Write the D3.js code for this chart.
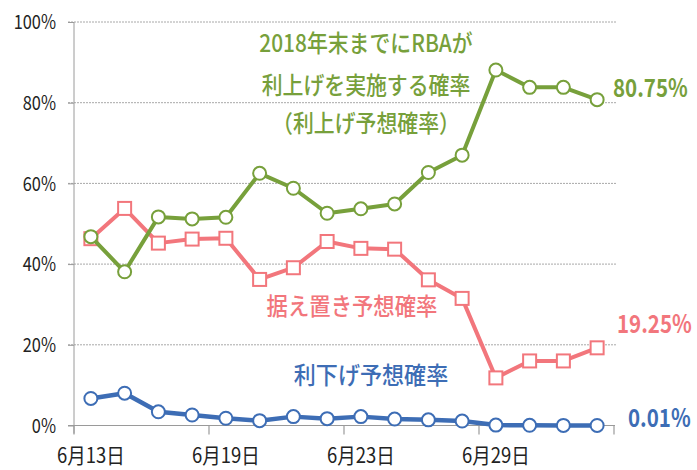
<!DOCTYPE html>
<html><head><meta charset="utf-8">
<script src="https://cdn.jsdelivr.net/npm/d3@7"></script>
<style>
html,body{margin:0;padding:0;background:#fff;}
svg{display:block;}
text{font-family:"Noto Sans CJK JP","Noto Sans",sans-serif;}
</style></head>
<body>
<svg id="chart" width="697" height="470"></svg>
<script>
const categories = ["6月13日","6月14日","6月15日","6月18日","6月19日","6月20日","6月21日","6月22日","6月23日","6月26日","6月27日","6月28日","6月29日","7月2日","7月3日","7月4日"];
const tickLabels = ["6月13日","6月19日","6月23日","6月29日"];
const yTicks = [0,20,40,60,80,100];
const hikeProb = [46.8,38.1,51.7,51.2,51.6,62.5,58.8,52.6,53.7,54.9,62.7,67.0,88.1,83.8,83.8,80.75];
const holdProb = [46.3,53.8,45.2,46.2,46.4,36.2,39.1,45.6,43.9,43.7,36.1,31.5,11.8,16.0,16.0,19.25];
const cutProb  = [6.7,8.0,3.4,2.6,1.8,1.2,2.2,1.7,2.2,1.6,1.4,1.1,0.1,0.05,0.02,0.01];
const hikeLabel = ["2018年末までにRBAが","利上げを実施する確率","（利上げ予想確率）"];
const holdLabel = "据え置き予想確率";
const cutLabel = "利下げ予想確率";
const endLabels = ["80.75%","19.25%","0.01%"];

const green="#77A03B", red="#F2767C", blue="#3D6DB5", grey="#9a9a9a";
const svg=d3.select("#chart");
const x=d3.scaleBand().domain(categories).range([74,614]);
const cx=c=>x(c)+x.bandwidth()/2;
const y=d3.scaleLinear().domain([0,100]).range([425.5,22]);

// gridlines
svg.append("g").selectAll("line").data(yTicks.filter(d=>d>0)).join("line")
  .attr("x1",68).attr("x2",617).attr("y1",d=>y(d)).attr("y2",d=>y(d))
  .attr("stroke","#a8a8a8").attr("stroke-width",1).attr("stroke-dasharray","2,1");

// y axis
const ya=svg.append("g").attr("transform","translate(74,0)")
  .call(d3.axisLeft(y).tickValues(yTicks).tickFormat(d=>d+"%").tickSize(6).tickPadding(4));
ya.select(".domain").attr("stroke",grey).attr("d",`M0,${y(100)}V${y(0)+8}`);
ya.selectAll(".tick line").attr("stroke",grey);
ya.selectAll(".tick text").attr("font-size",19.5).attr("fill","#222")
  .attr("font-family","'Noto Sans','Liberation Sans',sans-serif")
  .attr("transform","scale(0.84,1)").attr("x",-18/0.84).attr("dy","0.35em");

// x axis line + ticks
const xa=svg.append("g");
xa.append("line").attr("x1",68).attr("x2",615).attr("y1",y(0)).attr("y2",y(0)).attr("stroke",grey).attr("stroke-width",1.2);
const bounds=[0,4,8,12].map(i=>x(categories[i])).concat([x.range()[1]]);
xa.selectAll("line.t").data(bounds).join("line").attr("class","t")
  .attr("x1",d=>d).attr("x2",d=>d).attr("y1",y(0)).attr("y2",y(0)+9).attr("stroke",grey).attr("stroke-width",1.2);
xa.selectAll("text").data(tickLabels).join("text")
  .attr("transform",d=>`translate(${cx(d)},463) scale(0.88,1)`)
  .attr("text-anchor","middle").attr("font-size",21).attr("fill","#222").text(d=>d);

// series
function drawSeries(vals,color,shape,w){
  const line=d3.line().x((d,i)=>cx(categories[i])).y(d=>y(d));
  const g=svg.append("g");
  g.append("path").datum(vals).attr("d",line).attr("fill","none").attr("stroke",color).attr("stroke-width",w).attr("stroke-linejoin","round");
  if(shape==="circle"){
    g.selectAll("circle").data(vals).join("circle").attr("cx",(d,i)=>cx(categories[i])).attr("cy",d=>y(d))
      .attr("r",6.5).attr("fill","#fff").attr("stroke",color).attr("stroke-width",2);
  } else {
    g.selectAll("rect").data(vals).join("rect").attr("x",(d,i)=>cx(categories[i])-6.5).attr("y",d=>y(d)-6.5)
      .attr("width",13).attr("height",13).attr("fill","#fff").attr("stroke",color).attr("stroke-width",2);
  }
}
drawSeries(cutProb,blue,"circle",4.5);
drawSeries(holdProb,red,"square",4);
drawSeries(hikeProb,green,"circle",4);

// labels
function label(txt,xx,yy,color,size,anchor,sx,weight){
  svg.append("text").attr("transform",`translate(${xx},${yy}) scale(${sx},1)`)
    .attr("text-anchor",anchor).attr("font-size",size).attr("fill",color).attr("font-weight",weight||"normal").text(txt);
}
hikeLabel.forEach((t,i)=>label(t,366,[52,94,132][i],green,24,"middle",0.87,"500"));
label(holdLabel,352,315,red,24,"middle",0.89,"500");
label(cutLabel,371,384,blue,24,"middle",0.92,"500");
label(endLabels[0],613,97,green,25,"start",0.82,"bold");
label(endLabels[1],617,333,red,25,"start",0.82,"bold");
label(endLabels[2],628,427,blue,25,"start",0.82,"bold");
</script>
</body></html>
